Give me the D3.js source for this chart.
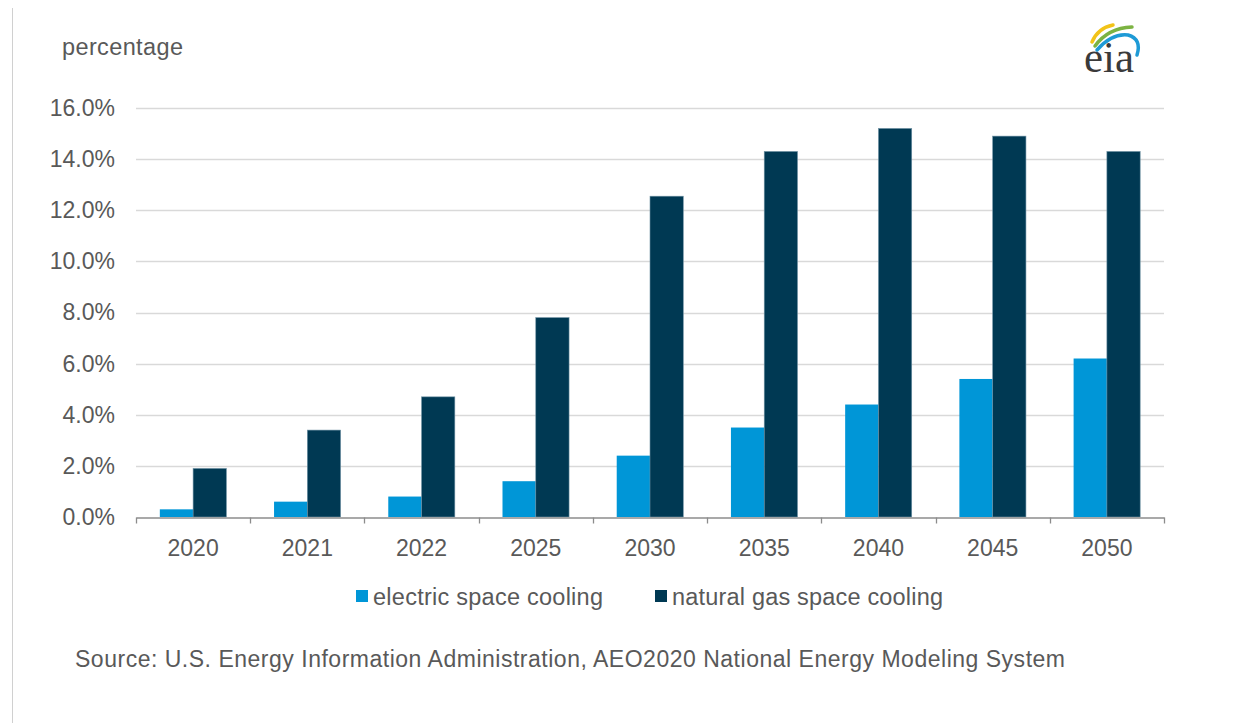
<!DOCTYPE html>
<html>
<head>
<meta charset="utf-8">
<script src="https://cdn.jsdelivr.net/npm/d3@7/dist/d3.min.js"></script>
<style>
  html, body { margin: 0; padding: 0; background: #fff; }
  text { font-family: "Liberation Sans", Arial, sans-serif; fill: #595959; }
</style>
</head>
<body>
<div id="chart"></div>
<script>
(function () {
    // data
    var years = ["2020", "2021", "2022", "2025", "2030", "2035", "2040", "2045", "2050"];
    var seriesNames = ["electric space cooling", "natural gas space cooling"];
    var electric = [0.3, 0.6, 0.8, 1.4, 2.4, 3.5, 4.4, 5.4, 6.2];
    var naturalGas = [1.9, 3.4, 4.7, 7.8, 12.55, 14.3, 15.2, 14.9, 14.3];
    var yTicks = [0, 2, 4, 6, 8, 10, 12, 14, 16];
    var colors = ["#0096d7", "#003953"];

    var W = 1248, H = 723;
    var svg = d3.select("#chart")
        .append("svg")
        .attr("width", W)
        .attr("height", H);

    // thin frame line on the left edge
    svg.append("line")
        .attr("x1", 12.5).attr("x2", 12.5)
        .attr("y1", 8).attr("y2", H)
        .attr("stroke", "#d0d0d0")
        .attr("stroke-width", 1);

    var left = 136, right = 1164, top = 108, bottom = 517;

    var x = d3.scaleBand().domain(years).range([left, right]).padding(0);
    var x1 = d3.scaleBand().domain(seriesNames).range([0, x.bandwidth()])
        .paddingInner(0).paddingOuter(0.716);
    var y = d3.scaleLinear().domain([0, 16]).range([bottom, top]);

    // gridlines
    svg.append("g")
        .selectAll("line")
        .data(yTicks.filter(function (d) { return d > 0; }))
        .join("line")
        .attr("x1", left).attr("x2", right)
        .attr("y1", function (d) { return Math.round(y(d)) + 0.5; })
        .attr("y2", function (d) { return Math.round(y(d)) + 0.5; })
        .attr("stroke", "#d9d9d9")
        .attr("stroke-width", 1.5);

    // y axis labels
    var yAxis = svg.append("g")
        .attr("transform", "translate(" + left + ",0)")
        .call(d3.axisLeft(y).tickValues(yTicks).tickSize(0).tickPadding(21)
            .tickFormat(function (d) { return d3.format(".1f")(d) + "%"; }));
    yAxis.select(".domain").remove();
    yAxis.selectAll("text")
        .attr("font-size", 23)
        .attr("font-family", null)
        .attr("fill", "#595959");

    // bars
    var rows = years.map(function (yr, i) {
        return { year: yr, values: [electric[i], naturalGas[i]] };
    });

    svg.append("g")
        .selectAll("g")
        .data(rows)
        .join("g")
        .attr("transform", function (d) { return "translate(" + x(d.year) + ",0)"; })
        .selectAll("rect")
        .data(function (d) {
            return d.values.map(function (v, j) { return { key: seriesNames[j], value: v, idx: j }; });
        })
        .join("rect")
        .attr("x", function (d) { return x1(d.key); })
        .attr("width", x1.bandwidth())
        .attr("y", function (d) { return y(d.value); })
        .attr("height", function (d) { return y(0) - y(d.value); })
        .attr("fill", function (d) { return colors[d.idx]; })
        .attr("stroke", function (d) { return d.idx === 1 ? "#6f92a4" : "none"; })
        .attr("stroke-width", 0.6);

    // x axis
    var xAxis = svg.append("g")
        .attr("transform", "translate(0," + (bottom + 0.5) + ")")
        .call(d3.axisBottom(x).tickSize(0).tickPadding(22));
    xAxis.select(".domain").attr("stroke", "#8c8c8c").attr("stroke-width", 1.5);
    xAxis.selectAll("text")
        .attr("font-size", 23)
        .attr("font-family", null)
        .attr("fill", "#595959");

    // tick marks between categories
    var bounds = years.map(function (d) { return x(d); }).concat([right]);
    xAxis.append("g")
        .selectAll("line")
        .data(bounds)
        .join("line")
        .attr("x1", function (d) { return Math.round(d) + 0.5; })
        .attr("x2", function (d) { return Math.round(d) + 0.5; })
        .attr("y1", 0).attr("y2", 6)
        .attr("stroke", "#8c8c8c")
        .attr("stroke-width", 1.3);

    // axis title
    svg.append("text")
        .attr("x", 62).attr("y", 55)
        .attr("font-size", 23.5)
        .attr("textLength", 121)
        .attr("lengthAdjust", "spacing")
        .text("percentage");

    // legend
    var legendX = [356, 655];
    var legendLen = [230, 271];
    var lg = svg.append("g")
        .selectAll("g")
        .data(seriesNames)
        .join("g")
        .attr("transform", function (d, i) { return "translate(" + legendX[i] + ",590)"; });
    lg.append("rect")
        .attr("width", 12).attr("height", 12)
        .attr("fill", function (d, i) { return colors[i]; });
    lg.append("text")
        .attr("x", 17).attr("y", 14.5)
        .attr("font-size", 23.5)
        .attr("textLength", function (d, i) { return legendLen[i]; })
        .attr("lengthAdjust", "spacing")
        .text(function (d) { return d; });

    // source note
    svg.append("text")
        .attr("x", 75).attr("y", 667)
        .attr("font-size", 23)
        .attr("textLength", 990)
        .attr("lengthAdjust", "spacing")
        .text("Source: U.S. Energy Information Administration, AEO2020 National Energy Modeling System");

    // eia logo
    var logo = svg.append("g");
    logo.append("path")
        .attr("d", "M1092,42 Q1098,28 1113,25")
        .attr("fill", "none").attr("stroke", "#f2c318").attr("stroke-width", 3.5)
        .attr("stroke-linecap", "round");
    logo.append("path")
        .attr("d", "M1095,46 Q1108,28 1132,27")
        .attr("fill", "none").attr("stroke", "#7cb342").attr("stroke-width", 3.5)
        .attr("stroke-linecap", "round");
    logo.append("path")
        .attr("d", "M1097,50 Q1112,33 1128,35 Q1142,39 1137,55")
        .attr("fill", "none").attr("stroke", "#1e9ad6").attr("stroke-width", 3.5)
        .attr("stroke-linecap", "round");
    logo.append("text")
        .attr("x", 1084).attr("y", 72)
        .attr("font-size", 44)
        .attr("textLength", 50)
        .attr("lengthAdjust", "spacingAndGlyphs")
        .style("font-family", "'Liberation Serif', 'DejaVu Serif', serif")
        .style("fill", "#3a3a3a")
        .text("eia");
}());
</script>
</body>
</html>
